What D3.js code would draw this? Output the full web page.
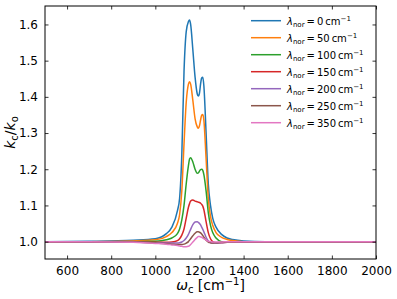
<!DOCTYPE html>
<html>
<head>
<meta charset="utf-8">
<script src="https://cdn.jsdelivr.net/npm/d3@7"></script>
<style>
  body { margin: 0; background: #fff; }
  text { font-family: "DejaVu Sans", sans-serif; }
</style>
</head>
<body>
<svg id="chart" width="397" height="299"></svg>
<script>
// wavenumber grid (cm^-1)
var omega = [500, 700, 900, 1000, 1050, 1075, 1100, 1110, 1120, 1130, 1140, 1150, 1155, 1160, 1170, 1180, 1190, 1195, 1200, 1205, 1210, 1215, 1220, 1230, 1240, 1250, 1260, 1275, 1300, 1325, 1350, 1400, 1500, 1700, 2000];

var lam0   = [1.0, 1.001, 1.004, 1.008, 1.022, 1.04, 1.085, 1.12, 1.24, 1.47, 1.58, 1.608, 1.612, 1.60, 1.53, 1.455, 1.408, 1.402, 1.41, 1.435, 1.452, 1.454, 1.43, 1.30, 1.16, 1.10, 1.065, 1.04, 1.02, 1.01, 1.006, 1.002, 1.0, 1.0, 1.0];
var lam50  = [1.0, 1.0, 1.002, 1.005, 1.014, 1.025, 1.05, 1.075, 1.14, 1.27, 1.385, 1.435, 1.442, 1.435, 1.39, 1.34, 1.317, 1.313, 1.32, 1.336, 1.349, 1.351, 1.335, 1.23, 1.12, 1.07, 1.045, 1.025, 1.012, 1.006, 1.003, 1.0, 1.0, 1.0, 1.0];
var lam100 = [1.0, 1.0, 1.0, 1.001, 1.005, 1.01, 1.022, 1.035, 1.06, 1.10, 1.16, 1.21, 1.228, 1.232, 1.22, 1.2, 1.189, 1.19, 1.195, 1.199, 1.2, 1.197, 1.185, 1.14, 1.08, 1.045, 1.025, 1.01, 1.0, 0.998, 0.998, 0.999, 1.0, 1.0, 1.0];
var lam150 = [1.0, 1.0, 0.999, 0.998, 0.998, 0.999, 1.003, 1.008, 1.018, 1.035, 1.065, 1.095, 1.105, 1.112, 1.115, 1.112, 1.11, 1.109, 1.108, 1.106, 1.103, 1.098, 1.088, 1.055, 1.025, 1.008, 1.0, 0.997, 0.997, 0.998, 0.998, 0.999, 1.0, 1.0, 1.0];
var lam200 = [1.0, 1.0, 0.999, 0.997, 0.996, 0.996, 0.996, 0.997, 0.999, 1.003, 1.01, 1.02, 1.027, 1.034, 1.047, 1.054, 1.055, 1.053, 1.05, 1.046, 1.04, 1.034, 1.027, 1.012, 1.002, 0.997, 0.996, 0.996, 0.997, 0.998, 0.999, 1.0, 1.0, 1.0, 1.0];
var lam250 = [1.0, 1.0, 0.999, 0.996, 0.994, 0.993, 0.992, 0.992, 0.992, 0.993, 0.996, 1.0, 1.004, 1.008, 1.016, 1.023, 1.027, 1.027, 1.026, 1.024, 1.021, 1.017, 1.012, 1.004, 0.999, 0.997, 0.996, 0.997, 0.998, 0.999, 0.999, 1.0, 1.0, 1.0, 1.0];
var lam350 = [1.0, 1.0, 0.998, 0.995, 0.993, 0.991, 0.989, 0.988, 0.987, 0.986, 0.986, 0.987, 0.989, 0.992, 0.999, 1.006, 1.012, 1.014, 1.014, 1.013, 1.012, 1.01, 1.008, 1.004, 1.001, 1.0, 0.999, 0.999, 0.999, 1.0, 1.0, 1.0, 1.0, 1.0, 1.0];

var lambdas = ["0", "50", "100", "150", "200", "250", "350"];
var colors = ["#1f77b4", "#ff7f0e", "#2ca02c", "#d62728", "#9467bd", "#8c564b", "#e377c2"];
var seriesValues = [lam0, lam50, lam100, lam150, lam200, lam250, lam350];

var xTicks = [600, 800, 1000, 1200, 1400, 1600, 1800, 2000];
var yTicks = [1.0, 1.1, 1.2, 1.3, 1.4, 1.5, 1.6];

var margin = {top: 6, right: 21, bottom: 40, left: 45};
var width = 397 - margin.left - margin.right;
var height = 299 - margin.top - margin.bottom;

var svg = d3.select("#chart");
var g = svg.append("g").attr("transform", "translate(" + margin.left + "," + margin.top + ")");

var xScale = d3.scaleLinear().domain([500, 2000]).range([0, width]);
var yScale = d3.scaleLinear().domain([0.952, 1.651]).range([height, 0]);

g.append("clipPath").attr("id", "clip")
    .append("rect").attr("width", width).attr("height", height);

var line = d3.line()
    .x(function (d) { return xScale(d[0]); })
    .y(function (d) { return yScale(d[1]); })
    .curve(d3.curveMonotoneX);

// draw series, last one on top
seriesValues.forEach(function (vals, i) {
    g.append("path")
        .datum(omega.map(function (w, j) { return [w, vals[j]]; }))
        .attr("clip-path", "url(#clip)")
        .attr("fill", "none")
        .attr("stroke", colors[i])
        .attr("stroke-width", 1.5)
        .attr("d", line);
});

// axes, ticks inward on all sides
var tickLen = 3.5;
g.append("g").attr("transform", "translate(0," + height + ")")
    .call(d3.axisBottom(xScale).tickValues(xTicks).tickSizeInner(-tickLen).tickSizeOuter(0).tickPadding(7)
        .tickFormat(d3.format("d")));
g.append("g")
    .call(d3.axisTop(xScale).tickValues(xTicks).tickSizeInner(-tickLen).tickSizeOuter(0).tickFormat(""));
g.append("g")
    .call(d3.axisLeft(yScale).tickValues(yTicks).tickSizeInner(-tickLen).tickSizeOuter(0).tickPadding(7)
        .tickFormat(d3.format(".1f")));
g.append("g").attr("transform", "translate(" + width + ",0)")
    .call(d3.axisRight(yScale).tickValues(yTicks).tickSizeInner(-tickLen).tickSizeOuter(0).tickFormat(""));

g.selectAll(".domain").remove();
g.append("rect")
    .attr("width", width).attr("height", height)
    .attr("fill", "none").attr("stroke", "#000").attr("stroke-width", 1);

g.selectAll(".tick line").attr("stroke", "#000").attr("stroke-width", 0.8);
g.selectAll(".tick text")
    .attr("fill", "#000")
    .style("font-size", "12px")
    .style("font-family", "DejaVu Sans");

// axis labels
var xl = svg.append("text")
    .attr("x", margin.left + width / 2)
    .attr("y", 290)
    .attr("text-anchor", "middle")
    .style("font-size", "14px");
xl.append("tspan").style("font-style", "italic").text("ω");
xl.append("tspan").attr("dy", 3).style("font-size", "10px").text("c");
xl.append("tspan").attr("dy", -3).text(" [cm");
xl.append("tspan").attr("dy", -5).style("font-size", "10px").text("−1");
xl.append("tspan").attr("dy", 5).text("]");

var yl = svg.append("text")
    .attr("transform", "translate(15," + (margin.top + height / 2) + ") rotate(-90)")
    .attr("text-anchor", "middle")
    .style("font-size", "14px");
yl.append("tspan").style("font-style", "italic").text("k");
yl.append("tspan").attr("dy", 3).style("font-size", "10px").text("c");
yl.append("tspan").attr("dy", -3).text("/");
yl.append("tspan").style("font-style", "italic").text("k");
yl.append("tspan").attr("dy", 3).style("font-size", "10px").text("o");

// legend
var legend = svg.append("g");
lambdas.forEach(function (lam, i) {
    var y = 20.7 + i * 17;
    legend.append("line")
        .attr("x1", 251).attr("x2", 281)
        .attr("y1", y).attr("y2", y)
        .attr("stroke", colors[i]).attr("stroke-width", 1.5);
    var t = legend.append("text")
        .attr("x", 287).attr("y", y + 4)
        .style("font-size", "10px");
    t.append("tspan").style("font-style", "italic").text("λ");
    t.append("tspan").attr("dy", 2.5).style("font-size", "7px").text("nor");
    t.append("tspan").attr("dy", -2.5).text("\u2009=\u2009" + lam + "\u2009cm");
    t.append("tspan").attr("dy", -4).style("font-size", "7px").text("−1");
});
</script>
</body>
</html>
